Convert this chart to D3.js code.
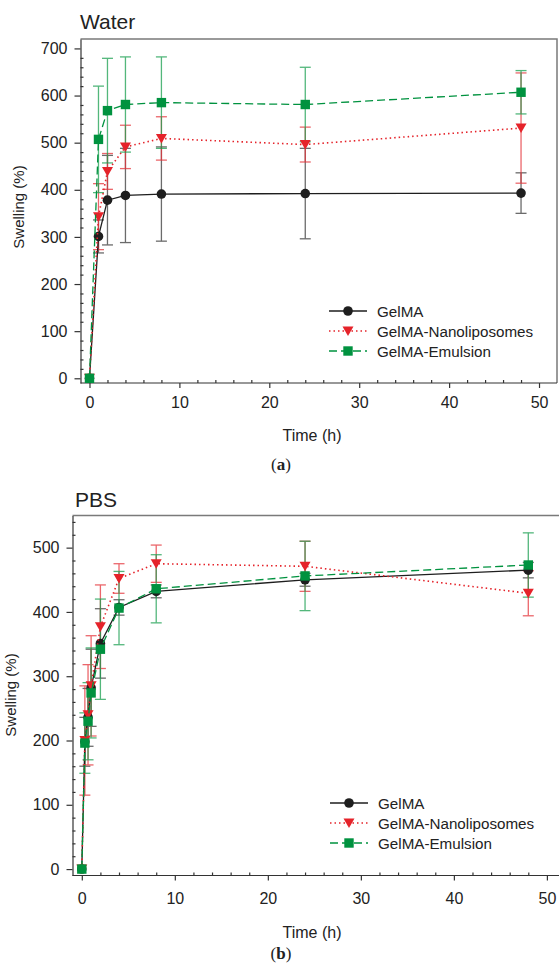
<!DOCTYPE html>
<html>
<head>
<meta charset="utf-8">
<script src="https://cdn.jsdelivr.net/npm/d3@7"></script>
<style>
  body { margin: 0; background: #fff; }
  svg { display: block; font-family: "Liberation Sans", Arial, sans-serif; }
  .tick text { fill: #222; font-size: 16px; }
  .axis path, .axis line { stroke: #333; stroke-width: 1.2; }
</style>
</head>
<body>
<svg id="chart" width="559" height="970"></svg>
<script>
// Water panel
const timeWater = [0, 1, 2, 4, 8, 24, 48];
const waterGelMA = [0, 301, 378, 388, 391, 392, 393];
const waterGelMAErr = [0, 35, 95, 100, 100, 96, 43];
const waterNano = [0, 343, 439, 491, 509, 496, 531];
const waterNanoErr = [0, 70, 38, 46, 46, 37, 117];
const waterEmul = [0, 507, 568, 581, 585, 581, 607];
const waterEmulErr = [0, 113, 111, 101, 97, 79, 46];

// PBS panel
const timePBS = [0, 0.33, 0.67, 1, 2, 4, 8, 24, 48];
const pbsGelMA = [0, 198, 236, 282, 351, 407, 432, 450, 465];
const pbsGelMAErr = [0, 38, 45, 60, 54, 12, 10, 10, 12];
const pbsNano = [0, 200, 240, 285, 377, 452, 475, 471, 429];
const pbsNanoErr = [0, 85, 78, 78, 65, 23, 29, 39, 35];
const pbsEmul = [0, 196, 230, 274, 342, 406, 436, 456, 473];
const pbsEmulErr = [0, 47, 60, 70, 78, 57, 53, 54, 50];

const seriesNames = ["GelMA", "GelMA-Nanoliposomes", "GelMA-Emulsion"];
const xTicks = [0, 10, 20, 30, 40, 50];

const styles = [
    { color: "#1e1e1e", bar: "#3a3a3a", dash: null, width: 1.3, marker: "circle" },
    { color: "#e5232a", bar: "#e5343a", dash: "1.5,3", width: 1.6, marker: "triangle" },
    { color: "#00923f", bar: "#1a9f50", dash: "8,4", width: 1.3, marker: "square" }
];

const svg = d3.select("#chart");

function drawMarker(g, type, x, y, fill) {
    if (type === "circle") {
        g.append("circle").attr("cx", x).attr("cy", y).attr("r", 4.8).attr("fill", fill);
    } else if (type === "triangle") {
        g.append("path")
            .attr("d", `M${x - 5.5},${y - 4.5}L${x + 5.5},${y - 4.5}L${x},${y + 5}Z`)
            .attr("fill", fill);
    } else {
        g.append("rect").attr("x", x - 4.7).attr("y", y - 4.7)
            .attr("width", 9.4).attr("height", 9.4).attr("fill", fill);
    }
}

function drawPanel(p) {
    const { left, right, top, bottom } = p.box;
    const x = d3.scaleLinear().domain([-1, 52]).range([left, p.xEnd]);
    const y = d3.scaleLinear().domain(p.yDomain).range([bottom, top]);
    const g = svg.append("g");

    // frame (top and right in grey)
    g.append("path")
        .attr("d", `M${left},${top}H${right}V${bottom}`)
        .attr("fill", "none").attr("stroke", "#7a7a7a").attr("stroke-width", 1.5);

    // minor ticks, inward
    const xMinor = d3.range(0, 52, 2).filter(v => xTicks.indexOf(v) < 0 && x(v) < right);
    g.append("g").attr("class", "axis").attr("transform", `translate(0,${bottom})`)
        .call(d3.axisBottom(x).tickValues(xMinor).tickSize(-3).tickSizeOuter(0).tickFormat(""))
        .call(a => a.select(".domain").remove());
    const yMinor = d3.range(0, p.yDomain[1], 20).filter(v => v % 100 !== 0);
    g.append("g").attr("class", "axis").attr("transform", `translate(${left},0)`)
        .call(d3.axisLeft(y).tickValues(yMinor).tickSize(-3).tickSizeOuter(0).tickFormat(""))
        .call(a => a.select(".domain").remove());

    // major axes
    const xAxis = g.append("g").attr("class", "axis").attr("transform", `translate(0,${bottom})`)
        .call(d3.axisBottom(x).tickValues(xTicks).tickSize(5).tickSizeOuter(0).tickPadding(p.xPad));
    xAxis.select(".domain").attr("d", `M${left},0H${right}`);
    g.append("g").attr("class", "axis").attr("transform", `translate(${left},0)`)
        .call(d3.axisLeft(y).tickValues(p.yTicks).tickSize(6).tickSizeOuter(0).tickPadding(7));

    // error bars
    p.series.forEach((s, i) => {
        const st = styles[i];
        const eb = g.append("g").attr("stroke", st.bar).attr("stroke-width", 1.3).attr("opacity", 0.75);
        p.time.forEach((t, k) => {
            const e = s.err[k];
            if (!e) return;
            const cx = x(t), y1 = y(s.values[k] - e), y2 = y(s.values[k] + e);
            eb.append("line").attr("x1", cx).attr("x2", cx).attr("y1", y1).attr("y2", y2);
            eb.append("line").attr("x1", cx - 5.5).attr("x2", cx + 5.5).attr("y1", y1).attr("y2", y1);
            eb.append("line").attr("x1", cx - 5.5).attr("x2", cx + 5.5).attr("y1", y2).attr("y2", y2);
        });
    });

    // lines and markers
    p.series.forEach((s, i) => {
        const st = styles[i];
        const line = d3.line().x((d, k) => x(p.time[k])).y(d => y(d));
        g.append("path").datum(s.values)
            .attr("d", line)
            .attr("fill", "none")
            .attr("stroke", st.color)
            .attr("stroke-width", st.width)
            .attr("stroke-dasharray", st.dash);
        const mg = g.append("g");
        s.values.forEach((v, k) => drawMarker(mg, st.marker, x(p.time[k]), y(v), st.color));
    });

    // legend
    const lg = g.append("g");
    seriesNames.forEach((name, i) => {
        const st = styles[i];
        const ly = p.legend.y + i * 20;
        lg.append("line")
            .attr("x1", p.legend.x).attr("x2", p.legend.x + 38)
            .attr("y1", ly).attr("y2", ly)
            .attr("stroke", st.color).attr("stroke-width", st.width)
            .attr("stroke-dasharray", st.dash);
        drawMarker(lg, st.marker, p.legend.x + 19, ly, st.color);
        lg.append("text")
            .attr("x", p.legend.x + 48).attr("y", ly + 5.5)
            .attr("font-size", 15.2).attr("fill", "#222")
            .text(name);
    });

    // titles and labels
    g.append("text").attr("x", p.title.x).attr("y", p.title.y)
        .attr("font-size", 21).attr("fill", "#222").text(p.title.text);
    g.append("text").attr("x", p.xLabel.x).attr("y", p.xLabel.y)
        .attr("text-anchor", "middle").attr("font-size", 16).attr("fill", "#222")
        .text("Time (h)");
    g.append("text")
        .attr("transform", `translate(${p.yLabel.x},${p.yLabel.y}) rotate(-90)`)
        .attr("text-anchor", "middle").attr("font-size", 15).attr("fill", "#222")
        .text("Swelling (%)");
    const cap = g.append("text").attr("x", 281).attr("y", p.caption)
        .attr("text-anchor", "middle").attr("font-size", 17).attr("fill", "#222")
        .attr("font-family", "Liberation Serif, serif");
    cap.append("tspan").text("(");
    cap.append("tspan").attr("font-weight", "bold").text(p.capLetter);
    cap.append("tspan").text(")");
}

drawPanel({
    box: { left: 80.5, right: 557, top: 39, bottom: 383 },
    xEnd: 557,
    xPad: 9,
    yDomain: [-10, 720],
    yTicks: d3.range(0, 701, 100),
    time: timeWater,
    series: [
        { values: waterGelMA, err: waterGelMAErr },
        { values: waterNano, err: waterNanoErr },
        { values: waterEmul, err: waterEmulErr }
    ],
    legend: { x: 329, y: 311 },
    title: { x: 80, y: 29, text: "Water" },
    xLabel: { x: 312, y: 441 },
    yLabel: { x: 24, y: 207 },
    caption: 470,
    capLetter: "a"
});

drawPanel({
    box: { left: 72.5, right: 566, top: 515.5, bottom: 875.5 },
    xEnd: 565.5,
    xPad: 12,
    yDomain: [-10, 550],
    yTicks: d3.range(0, 501, 100),
    time: timePBS,
    series: [
        { values: pbsGelMA, err: pbsGelMAErr },
        { values: pbsNano, err: pbsNanoErr },
        { values: pbsEmul, err: pbsEmulErr }
    ],
    legend: { x: 330, y: 803 },
    title: { x: 75, y: 507, text: "PBS" },
    xLabel: { x: 312, y: 938 },
    yLabel: { x: 16, y: 695 },
    caption: 959,
    capLetter: "b"
});
</script>
</body>
</html>
